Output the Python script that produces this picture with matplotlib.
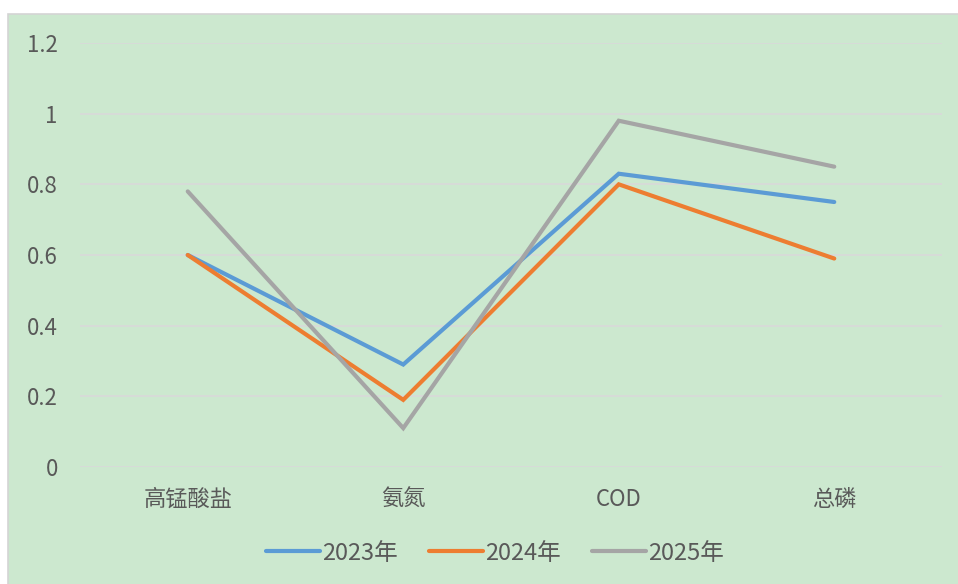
import matplotlib.pyplot as plt
from matplotlib.patches import Rectangle

plt.rcParams['font.family'] = ['Noto Sans CJK SC', 'DejaVu Sans']

categories = ['高锰酸盐', '氨氮', 'COD', '总磷']
series_names = ['2023年', '2024年', '2025年']
v2023 = [0.60, 0.29, 0.83, 0.75]
v2024 = [0.60, 0.19, 0.80, 0.59]
v2025 = [0.78, 0.11, 0.98, 0.85]
y_ticks = [0, 0.2, 0.4, 0.6, 0.8, 1.0, 1.2]
y_labels = ['0', '0.2', '0.4', '0.6', '0.8', '1', '1.2']

colors = ['#5B9BD5', '#ED7D31', '#A5A5A5']
bg = '#cce8cf'
text_color = '#595959'

W, H = 958, 584
fig = plt.figure(figsize=(W / 100, H / 100), dpi=100)
fig.patch.set_facecolor('white')
# chart area background with thin grey border
fig.add_artist(Rectangle((8 / W, -0.01), 1.0, (H - 14) / H + 0.01,
                         transform=fig.transFigure, facecolor=bg,
                         edgecolor='#d4d4d4', linewidth=1.2, zorder=-10))

ax = fig.add_axes([80 / W, (H - 467) / H, 862 / W, 424 / H])
ax.set_facecolor('none')

x = range(len(categories))
for vals, name, c in zip([v2023, v2024, v2025], series_names, colors):
    ax.plot(x, vals, color=c, linewidth=3, label=name,
            solid_capstyle='round', solid_joinstyle='miter')

ax.set_xlim(-0.5, len(categories) - 0.5)
ax.set_ylim(0, 1.2)
ax.set_yticks(y_ticks)
ax.set_yticklabels(y_labels)
ax.set_xticks(list(x))
ax.set_xticklabels(categories)
ax.grid(axis='y', color='#d9d9d9', linewidth=1.2)
ax.set_axisbelow(True)
for s in ax.spines.values():
    s.set_visible(False)
ax.tick_params(axis='both', length=0, labelsize=16, colors=text_color)
ax.tick_params(axis='y', pad=16)
ax.tick_params(axis='x', pad=15)

leg = fig.legend(loc='center', bbox_to_anchor=(495 / W, (H - 553) / H),
                 ncol=3, frameon=False, fontsize=17, handlelength=2.3,
                 handletextpad=0.1, columnspacing=1.3)
for t in leg.get_texts():
    t.set_color(text_color)
for l in leg.get_lines():
    l.set_linewidth(3)
    l.set_solid_capstyle('round')

fig.savefig('out.png', dpi=100)
